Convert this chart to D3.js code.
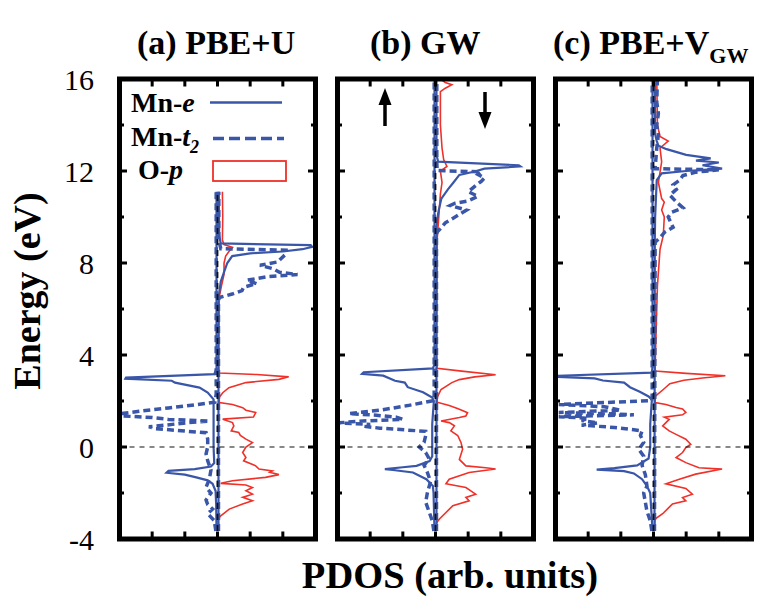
<html>
<head>
  <title></title>
  <script src="https://d3js.org/d3.v7.min.js"></script>
  <style type="text/css">
  body { margin: 0; background: #fff; }
  text { font-family: "Liberation Serif", "Times New Roman", serif; }
  </style>
</head>
<body>
<div id="viz"></div>

<script type="text/javascript">

// energy axis (eV) and PDOS axis ticks
const yMajor = [-4, 0, 4, 8, 12, 16];
const yMinor = [-2, 2, 6, 10, 14];
const xTicks = [-3, -2, -1, 0, 1, 2, 3];

// each curve is [energy, |PDOS|]; spin up drawn to the left, spin down to the right
// (a) PBE+U
const aEUp = [[-3.65,0.03],[-2.5,0.04],[-1.9,0.06],[-1.6,0.15],[-1.45,0.3],[-1.32,0.65],[-1.2,1.0],[-1.12,1.56],[-1.04,1.5],[-0.96,0.7],[-0.85,0.2],[-0.7,0.1],[0,0.12],[1.0,0.12],[2.07,0.12],[2.37,0.3],[2.58,0.55],[2.8,1.3],[2.88,1.4],[2.97,2.82],[3.02,2.8],[3.17,0.1],[3.4,0.03],[6,0.03],[11.1,0.03]];
const aEDn = [[-3.65,0.03],[6.5,0.03],[7.2,0.1],[7.6,0.2],[8.0,0.3],[8.3,0.45],[8.42,1.0],[8.5,2.0],[8.6,2.6],[8.7,2.9],[8.78,2.85],[8.85,0.1],[9.2,0.05],[11.1,0.04]];
const aT2Up = [[-3.65,0.05],[-3.2,0.1],[-2.9,0.3],[-2.7,0.15],[-2.5,0.3],[-2.3,0.35],[-2.0,0.2],[-1.75,0.35],[-1.4,0.25],[-1.0,0.2],[-0.6,0.3],[-0.3,0.35],[0.0,0.3],[0.35,0.3],[0.62,0.35],[0.72,1.25],[0.8,1.9],[0.88,2.1],[0.95,1.6],[1.06,0.9],[1.13,0.25],[1.2,1.5],[1.28,2.0],[1.35,2.9],[1.45,2.95],[1.55,2.4],[1.7,1.5],[1.85,0.6],[1.95,0.08],[2.3,0.04],[11.1,0.04]];
const aT2Dn = [[-3.65,0.03],[6.3,0.03],[6.5,0.05],[6.65,0.45],[6.8,0.75],[6.95,0.8],[7.1,1.2],[7.25,0.9],[7.4,1.5],[7.5,2.45],[7.6,1.9],[7.75,1.7],[7.9,1.3],[8.05,1.85],[8.2,1.95],[8.4,2.1],[8.56,2.1],[8.62,0.1],[9.0,0.04],[11.1,0.04]];
const aOp = [[-3.65,0.02],[-3.13,0.02],[-2.99,0.1],[-2.7,0.36],[-2.48,0.77],[-2.34,1.07],[-2.19,0.77],[-2.05,1.07],[-1.9,0.87],[-1.76,1.07],[-1.65,0.87],[-1.58,0.1],[-1.47,0.46],[-1.32,1.47],[-1.2,1.88],[-1.1,1.6],[-1.04,1.68],[-0.96,1.27],[-0.82,1.17],[-0.6,0.8],[-0.46,0.87],[-0.24,0.77],[0.0,0.87],[0.19,1.07],[0.34,0.87],[0.5,0.7],[0.63,0.65],[0.7,0.42],[0.92,0.5],[1.06,0.46],[1.21,0.16],[1.3,1.1],[1.5,1.17],[1.6,0.87],[1.71,0.77],[1.85,0.46],[1.93,0.06],[2.15,0.05],[2.36,0.16],[2.58,0.35],[2.8,0.87],[2.94,1.88],[3.05,2.18],[3.15,1.2],[3.22,0.05],[3.5,0.03],[6.5,0.05],[7.0,0.12],[7.5,0.2],[8.0,0.2],[8.3,0.25],[8.5,0.35],[8.68,0.46],[8.8,0.2],[9.0,0.15],[10,0.16],[11.1,0.15]];

// (b) GW
const bEUp = [[-3.65,0.03],[-2.0,0.06],[-1.69,0.08],[-1.4,0.28],[-1.11,0.69],[-1.0,1.3],[-0.96,1.55],[-0.88,1.0],[-0.82,0.58],[-0.61,0.18],[-0.4,0.1],[0,0.1],[1.0,0.1],[2.0,0.05],[2.15,0.1],[2.38,0.38],[2.6,0.85],[2.8,0.94],[2.88,1.24],[3.1,1.6],[3.18,2.25],[3.25,2.2],[3.42,0.08],[3.6,0.03],[16,0.03]];
const bEDn = [[-3.65,0.03],[9.5,0.03],[9.9,0.05],[10.3,0.1],[10.8,0.18],[11.2,0.38],[11.5,0.55],[11.83,0.73],[11.98,1.2],[12.1,1.5],[12.2,2.6],[12.25,2.55],[12.41,0.08],[12.7,0.03],[16,0.03]];
const bT2Up = [[-3.65,0.05],[-3.2,0.1],[-2.8,0.2],[-2.4,0.3],[-2.0,0.25],[-1.5,0.15],[-1.1,0.25],[-0.8,0.35],[-0.5,0.2],[-0.24,0.3],[0.0,0.5],[0.2,0.35],[0.5,0.3],[0.68,0.3],[0.74,0.9],[0.82,1.7],[0.9,2.2],[0.98,2.0],[1.05,2.95],[1.12,2.4],[1.2,1.0],[1.3,1.2],[1.38,1.8],[1.45,2.65],[1.6,1.7],[1.8,0.85],[2.02,0.05],[2.3,0.04],[16,0.04]];
const bT2Dn = [[-3.65,0.03],[9.2,0.03],[9.35,0.05],[9.5,0.15],[9.75,0.3],[10.0,0.6],[10.3,0.95],[10.5,0.45],[10.6,0.6],[10.7,1.0],[10.9,1.3],[11.1,1.0],[11.33,1.2],[11.55,1.4],[11.7,1.5],[11.85,1.3],[11.96,1.4],[12.02,0.05],[12.4,0.04],[16,0.04]];
const bOp = [[-3.65,0.02],[-3.3,0.03],[-3.13,0.12],[-2.85,0.32],[-2.55,0.53],[-2.34,1.03],[-2.19,0.93],[-2.05,1.23],[-1.76,0.93],[-1.6,0.32],[-1.4,0.42],[-1.11,1.03],[-0.96,1.84],[-0.9,1.54],[-0.82,0.93],[-0.54,0.73],[-0.1,0.83],[0.2,0.78],[0.5,0.68],[0.7,0.47],[0.92,0.58],[1.06,0.42],[1.13,0.17],[1.28,0.73],[1.35,0.93],[1.49,0.98],[1.64,0.73],[1.7,0.63],[1.8,0.42],[1.95,0.05],[2.15,0.05],[2.5,0.17],[2.8,0.5],[2.93,0.73],[3.05,1.2],[3.14,1.84],[3.3,0.8],[3.42,0.05],[4,0.03],[9,0.05],[10,0.1],[11,0.15],[11.5,0.2],[12.0,0.15],[12.2,0.35],[12.5,0.25],[13,0.2],[14,0.15],[15,0.15],[15.45,0.15],[15.6,0.3],[15.75,0.5],[15.85,0.3],[16,0.15]];

// (c) PBE+V_GW
const cEUp = [[-3.65,0.03],[-2.0,0.1],[-1.7,0.2],[-1.4,0.35],[-1.15,0.6],[-1.05,0.9],[-0.98,1.74],[-0.92,1.2],[-0.8,0.5],[-0.5,0.15],[0,0.1],[1.0,0.1],[2.05,0.05],[2.2,0.15],[2.4,0.42],[2.6,0.72],[2.8,0.9],[2.89,1.55],[2.98,1.8],[3.05,2.9],[3.1,2.9],[3.23,0.05],[3.5,0.03],[16,0.03]];
const cEDn = [[-3.65,0.03],[9,0.04],[10,0.05],[11.0,0.08],[11.6,0.1],[11.9,0.25],[12.0,1.0],[12.1,2.1],[12.25,1.5],[12.37,2.0],[12.45,1.3],[12.55,1.75],[12.7,1.0],[12.95,0.4],[13.1,0.15],[13.3,0.1],[13.6,0.05],[16,0.04]];
const cT2Up = [[-3.65,0.05],[-3.2,0.1],[-2.8,0.2],[-2.4,0.25],[-2.0,0.3],[-1.7,0.2],[-1.2,0.25],[-0.8,0.35],[-0.4,0.3],[-0.1,0.45],[0.2,0.3],[0.5,0.4],[0.7,0.35],[0.75,0.6],[0.85,1.2],[0.95,2.2],[1.05,1.7],[1.15,2.2],[1.25,2.0],[1.32,2.9],[1.4,0.6],[1.45,1.5],[1.5,2.9],[1.6,1.0],[1.75,1.5],[1.85,2.9],[2.02,0.05],[2.3,0.04],[16,0.04]];
const cT2Dn = [[-3.65,0.03],[8.9,0.05],[9.1,0.2],[9.35,0.35],[9.55,0.6],[10.0,0.45],[10.2,0.55],[10.4,0.9],[10.65,0.7],[10.95,0.5],[11.2,0.7],[11.4,0.6],[11.6,0.8],[11.8,0.9],[11.95,1.3],[12.05,2.0],[12.1,0.05],[13.0,0.1],[13.6,0.15],[14.0,0.1],[14.5,0.15],[15,0.1],[16,0.12]];
const cOp = [[-3.65,0.02],[-3.13,0.05],[-2.9,0.28],[-2.48,0.58],[-2.34,0.99],[-2.2,0.89],[-2.05,1.19],[-1.8,0.99],[-1.6,0.38],[-1.4,0.79],[-1.18,1.29],[-0.96,2.1],[-0.9,1.39],[-0.68,0.99],[-0.46,0.69],[-0.24,0.89],[-0.02,0.99],[0.12,1.14],[0.34,0.99],[0.55,0.69],[0.7,0.48],[0.92,0.28],[1.2,0.48],[1.3,0.33],[1.4,0.89],[1.5,0.99],[1.65,0.89],[1.72,0.69],[1.85,0.38],[1.93,0.05],[2.2,0.05],[2.5,0.3],[2.75,0.5],[2.9,0.93],[3.0,1.5],[3.1,2.2],[3.2,1.0],[3.3,0.05],[3.5,0.05],[5,0.08],[7,0.12],[8.6,0.2],[9.2,0.3],[10.0,0.33],[10.3,0.25],[10.65,0.33],[10.8,0.25],[11.5,0.15],[12.4,0.25],[13.0,0.2],[13.3,0.45],[13.5,0.2],[14,0.12],[16,0.1]];

const BLUE = "#3a56a8";
const RED = "#ef3129";
const TOP = 79, BOTTOM = 539, PW = 196;

const panels = [
  {left: 119.5, title: "(a) PBE+U", eUp: aEUp, eDn: aEDn, t2Up: aT2Up, t2Dn: aT2Dn, op: aOp},
  {left: 337.5, title: "(b) GW", eUp: bEUp, eDn: bEDn, t2Up: bT2Up, t2Dn: bT2Dn, op: bOp},
  {left: 555.5, title: "(c) PBE+V", sub: "GW", eUp: cEUp, eDn: cEDn, t2Up: cT2Up, t2Dn: cT2Dn, op: cOp}
];
const titleX = [137, 370, 553];

let svg = d3.select("#viz")
  .append("svg")
  .attr("width", 757)
  .attr("height", 600);

let y = d3.scaleLinear().domain([-4, 16]).range([BOTTOM, TOP]);

function drawPanel(p, i) {
  let x = d3.scaleLinear().domain([-3, 3]).range([p.left, p.left + PW]);
  let g = svg.append("g");

  g.append("clipPath").attr("id", "clip" + i)
    .append("rect")
    .attr("x", p.left).attr("y", TOP)
    .attr("width", PW).attr("height", BOTTOM - TOP);

  let curves = g.append("g").attr("clip-path", `url(#clip${i})`);

  const line = sign => d3.line()
    .x(d => x(sign * d[1]))
    .y(d => y(d[0]));

  curves.append("path").datum(p.op)
    .attr("d", line(1))
    .attr("fill", "none").attr("stroke", RED).attr("stroke-width", 1.6);

  [[p.t2Up, -1], [p.t2Dn, 1]].forEach(([d, s]) => {
    curves.append("path").datum(d)
      .attr("d", line(s))
      .attr("fill", "none").attr("stroke", BLUE)
      .attr("stroke-width", 3.5)
      .attr("stroke-dasharray", "7,4");
  });

  [[p.eUp, -1], [p.eDn, 1]].forEach(([d, s]) => {
    curves.append("path").datum(d)
      .attr("d", line(s))
      .attr("fill", "none").attr("stroke", BLUE)
      .attr("stroke-width", 2.2);
  });

  // zero lines: the vertical one only spans the computed energy range
  let eRange = d3.extent(p.op, d => d[0]);
  curves.append("line")
    .attr("x1", x(0)).attr("x2", x(0))
    .attr("y1", y(eRange[0])).attr("y2", y(eRange[1]))
    .attr("stroke", "#111").attr("stroke-width", 1.8)
    .attr("stroke-dasharray", "6,5");

  curves.append("line")
    .attr("x1", p.left).attr("x2", p.left + PW)
    .attr("y1", y(0)).attr("y2", y(0))
    .attr("stroke", "#111").attr("stroke-width", 1.2)
    .attr("stroke-dasharray", "5,5");

  // ticks
  const tick = (x1, x2, y1, y2) => g.append("line")
    .attr("x1", x1).attr("x2", x2).attr("y1", y1).attr("y2", y2)
    .attr("stroke", "#000").attr("stroke-width", 3);

  yMajor.forEach(v => {
    tick(p.left, p.left + 7.5, y(v), y(v));
    tick(p.left + PW - 7.5, p.left + PW, y(v), y(v));
  });
  yMinor.forEach(v => {
    tick(p.left, p.left + 4.5, y(v), y(v));
    tick(p.left + PW - 4.5, p.left + PW, y(v), y(v));
  });
  xTicks.forEach(v => {
    tick(x(v), x(v), BOTTOM, BOTTOM - 7.5);
    tick(x(v), x(v), TOP, TOP + 7.5);
  });

  g.append("rect")
    .attr("x", p.left).attr("y", TOP)
    .attr("width", PW).attr("height", BOTTOM - TOP)
    .attr("fill", "none").attr("stroke", "#000").attr("stroke-width", 5);

  let t = svg.append("text")
    .attr("x", titleX[i]).attr("y", 54)
    .attr("font-size", 34).attr("font-weight", "bold")
    .text(p.title);
  if (p.sub) {
    t.append("tspan").attr("dy", 9).attr("font-size", 22).text(p.sub);
  }
}

panels.forEach(drawPanel);

// energy tick labels
svg.selectAll(".ylab")
  .data(yMajor)
  .enter().append("text")
  .attr("class", "ylab")
  .attr("x", 94)
  .attr("y", d => y(d))
  .attr("dy", "0.35em")
  .attr("text-anchor", "end")
  .attr("font-size", 30)
  .text(d => d);

svg.append("text")
  .attr("transform", "translate(40,291) rotate(-90)")
  .attr("text-anchor", "middle")
  .attr("font-size", 38).attr("font-weight", "bold")
  .text("Energy (eV)");

svg.append("text")
  .attr("x", 450).attr("y", 588)
  .attr("text-anchor", "middle")
  .attr("font-size", 38.5).attr("font-weight", "bold")
  .text("PDOS (arb. units)");

// legend in panel (a)
let legend = svg.append("g").attr("font-size", 28).attr("font-weight", "bold");

let l1 = legend.append("text").attr("x", 131).attr("y", 112).text("Mn-");
l1.append("tspan").attr("font-style", "italic").text("e");
legend.append("line")
  .attr("x1", 210).attr("x2", 282).attr("y1", 102.5).attr("y2", 102.5)
  .attr("stroke", BLUE).attr("stroke-width", 2.5);

let l2 = legend.append("text").attr("x", 131).attr("y", 146).text("Mn-");
l2.append("tspan").attr("font-style", "italic").text("t");
l2.append("tspan").attr("font-size", 18).attr("font-style", "italic").attr("dy", 7).text("2");
legend.append("line")
  .attr("x1", 213).attr("x2", 284).attr("y1", 138.5).attr("y2", 138.5)
  .attr("stroke", BLUE).attr("stroke-width", 3.5)
  .attr("stroke-dasharray", "11,5");

let l3 = legend.append("text").attr("x", 138).attr("y", 179).text("O-");
l3.append("tspan").attr("font-style", "italic").text("p");
legend.append("rect")
  .attr("x", 213).attr("y", 161).attr("width", 73).attr("height", 20)
  .attr("fill", "none").attr("stroke", RED).attr("stroke-width", 1.8);

// spin arrows in panel (b)
const arrow = (xc, tail, tip) => {
  let dir = tip < tail ? 1 : -1;
  svg.append("line")
    .attr("x1", xc).attr("x2", xc)
    .attr("y1", tail).attr("y2", tip + dir * 10)
    .attr("stroke", "#000").attr("stroke-width", 3.5);
  svg.append("path")
    .attr("d", `M${xc},${tip} L${xc - 6.5},${tip + dir * 17} L${xc + 6.5},${tip + dir * 17} Z`)
    .attr("fill", "#000");
};
arrow(385, 126, 88);
arrow(485, 92, 129);

</script>
</body>
</html>
